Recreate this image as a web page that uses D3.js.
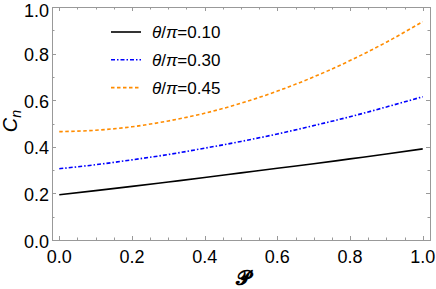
<!DOCTYPE html>
<html>
<head>
<meta charset="utf-8">
<script src="https://cdn.jsdelivr.net/npm/d3@7"></script>
<style>
  body { margin: 0; background: #fff; }
  svg { font-family: "Liberation Sans", Arial, sans-serif; }
</style>
</head>
<body>
<div id="chart"></div>
<script>
// data
var P = [0, 0.1, 0.2, 0.3, 0.4, 0.5, 0.6, 0.7, 0.8, 0.9, 1.0];
var c010 = [0.194, 0.212, 0.230, 0.249, 0.268, 0.288, 0.308, 0.327, 0.348, 0.369, 0.391];
var c030 = [0.306, 0.323, 0.344, 0.367, 0.394, 0.423, 0.455, 0.491, 0.529, 0.571, 0.615];
var c045 = [0.465, 0.471, 0.486, 0.511, 0.544, 0.587, 0.639, 0.700, 0.770, 0.849, 0.937];
var labels = ["0.10", "0.30", "0.45"];
var xTicks = [0, 0.2, 0.4, 0.6, 0.8, 1.0];
var yTicks = [0, 0.2, 0.4, 0.6, 0.8, 1.0];

var W = 436, H = 289;
var fL = 52, fR = 430, fT = 7, fB = 240;

var series = [
  {vals: c010, color: "#000000", dash: null},
  {vals: c030, color: "#0000ff", dash: "4,2,1.5,2"},
  {vals: c045, color: "#ff8c00", dash: "3.5,2.5"}
];

var svg = d3.select("#chart").append("svg")
  .attr("width", W).attr("height", H);

var x = d3.scaleLinear().domain([-0.02, 1.02]).range([fL, fR]);
var y = d3.scaleLinear().domain([0, 1]).range([fB, fT]);

var grey = "#999999";

// frame
svg.append("rect")
  .attr("x", fL + 0.5).attr("y", fT + 0.5)
  .attr("width", fR - fL).attr("height", fB - fT)
  .style("fill", "none").style("stroke", grey).style("stroke-width", 1);

// ticks, all four sides, pointing in
var xMinor = d3.range(0, 1.0001, 0.05);
var yMinor = d3.range(0, 1.0001, 0.1);
var tk = svg.append("g").style("stroke", grey).style("stroke-width", 1);
xMinor.forEach(function(v, i){
  var len = (i % 4 == 0) ? 4 : 2.5;
  var px = Math.round(x(v)) + 0.5;
  tk.append("line").attr("x1", px).attr("x2", px).attr("y1", fB).attr("y2", fB - len);
  tk.append("line").attr("x1", px).attr("x2", px).attr("y1", fT).attr("y2", fT + len);
});
yMinor.forEach(function(v, i){
  var len = (i % 2 == 0) ? 4 : 2.5;
  var py = Math.round(y(v)) + 0.5;
  tk.append("line").attr("y1", py).attr("y2", py).attr("x1", fL).attr("x2", fL + len);
  tk.append("line").attr("y1", py).attr("y2", py).attr("x1", fR).attr("x2", fR - len);
});

// tick labels
svg.selectAll(".xl").data(xTicks).enter().append("text")
  .attr("x", function(d){ return x(d); })
  .attr("y", 263)
  .attr("text-anchor", "middle")
  .style("font-size", "18px")
  .text(function(d){ return d.toFixed(1); });

svg.selectAll(".yl").data(yTicks).enter().append("text")
  .attr("x", 49)
  .attr("y", function(d){ return Math.max(y(d) + 7.5, 17); })
  .attr("text-anchor", "end")
  .style("font-size", "18px")
  .text(function(d){ return d.toFixed(1); });

// curves
var line = d3.line()
  .x(function(d, i){ return x(P[i]); })
  .y(function(d){ return y(d); })
  .curve(d3.curveMonotoneX);

series.forEach(function(s){
  svg.append("path").datum(s.vals).attr("d", line)
    .style("fill", "none").style("stroke", s.color).style("stroke-width", 1.6)
    .style("stroke-dasharray", s.dash);
});

// legend
series.forEach(function(s, i){
  var ly = 32 + i * 27.8;
  svg.append("line").attr("x1", 111).attr("x2", 141).attr("y1", ly).attr("y2", ly)
    .style("stroke", s.color).style("stroke-width", 1.6).style("stroke-dasharray", s.dash);
  var t = svg.append("text").attr("x", 152).attr("y", ly + 6).style("font-size", "17px");
  t.append("tspan").style("font-style", "italic").text("\u03b8");
  t.append("tspan").text("/");
  t.append("tspan").style("font-style", "italic").text("\u03c0");
  t.append("tspan").text("=" + labels[i]);
});

// axis labels
svg.append("text").attr("x", 243).attr("y", 285)
  .attr("text-anchor", "middle")
  .style("font-size", "20px").style("font-weight", "bold")
  .style("font-family", "'DejaVu Sans', 'Noto Sans', sans-serif")
  .text("\ud835\udcdf");

var yl = svg.append("text")
  .attr("transform", "translate(17,121)rotate(-90)")
  .attr("text-anchor", "middle")
  .style("font-size", "20px");
yl.append("tspan").style("font-style", "italic").text("C");
yl.append("tspan").style("font-style", "italic").style("font-size", "14px").attr("dy", 4).text("n");
</script>
</body>
</html>
